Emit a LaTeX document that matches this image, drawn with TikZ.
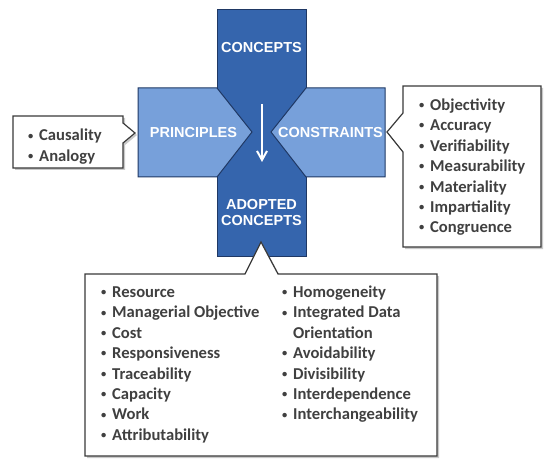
\documentclass[tikz,border=0pt]{standalone}
\usepackage{fontspec}
\setmainfont{Carlito}
\newfontfamily\labfont{Liberation Sans}
\usetikzlibrary{shadows,arrows.meta}
\definecolor{darkblue}{HTML}{3565AD}
\definecolor{lightblue}{HTML}{77A0DA}
\definecolor{navy}{HTML}{1F3864}
\definecolor{txt}{HTML}{404040}
\definecolor{boxline}{HTML}{3A3A3A}
\newcommand\bl{\makebox[12pt][l]{\hspace{1pt}\raisebox{1.9pt}{\fontsize{10.5}{10.5}\selectfont•}}}
\newcommand\nobl{\makebox[12pt][l]{}}
\begin{document}
\begin{tikzpicture}[x=1pt,y=-1pt,
 crossdark/.style={fill=darkblue,draw=navy,line width=1pt},
 crosslight/.style={fill=lightblue,draw=navy,line width=1pt},
 lab/.style={font=\labfont\bfseries\fontsize{14.5}{16}\selectfont,text=white,inner sep=0pt,align=center},
 callout/.style={fill=white,draw=boxline,line width=1.2pt,line join=miter,
   drop shadow={shadow xshift=2pt,shadow yshift=-2pt,opacity=0.35,fill=black!60}},
 list/.style={font=\bfseries\fontsize{16.6}{20.4}\selectfont,text=txt,inner sep=0pt,anchor=base west}]
\useasboundingbox (0,0) rectangle (557,468);
\fill[white] (0,0) rectangle (557,468);
% cross
\draw[crossdark] (217,10) rectangle (306,256);
\draw[crosslight] (138,88) -- (217,88) -- (252,132) -- (217,177) -- (138,177) -- cycle;
\draw[crosslight] (385,88) -- (306,88) -- (271,132) -- (306,177) -- (385,177) -- cycle;
\node[lab] (concepts) at (261.5,48) {CONCEPTS};
\node[lab] (principles) at (193.5,133) {PRINCIPLES};
\node[lab] (constraints) at (330.5,133) {CONSTRAINTS};
\node[lab] (adopted) at (261.5,213) {ADOPTED\\CONCEPTS};
\coordinate (atop) at (262,104);
\coordinate (abot) at (262,162);
\draw[white,line width=2pt,-{Straight Barb[length=9pt,width=10pt]}] (atop) -- (abot);
% callouts
\draw[callout] (13,116) -- (123,116) -- (123,123) -- (135,133) -- (123,143) -- (123,168) -- (13,168) -- cycle;
\draw[callout] (403,86) -- (541,86) -- (541,247) -- (403,247) -- (403,152) -- (387,132) -- (403,113) -- cycle;
\draw[callout] (85,274) -- (245,274) -- (261,242) -- (278,274) -- (437,274) -- (437,456) -- (85,456) -- cycle;
% lists
\node[list] (leftlist) at (27,141) {\begin{tabular}[t]{@{}l@{}}\bl Causality\\ \bl Analogy\end{tabular}};
\node[list] (rightlist) at (418,110.5) {\begin{tabular}[t]{@{}l@{}}\bl Objectivity\\ \bl Accuracy\\ \bl Verifiability\\ \bl Measurability\\ \bl Materiality\\ \bl Impartiality\\ \bl Congruence\end{tabular}};
\node[list] (botlist1) at (100,297.5) {\begin{tabular}[t]{@{}l@{}}\bl Resource\\ \bl Managerial Objective\\ \bl Cost\\ \bl Responsiveness\\ \bl Traceability\\ \bl Capacity\\ \bl Work\\ \bl Attributability\end{tabular}};
\node[list] (botlist2) at (281,297.5) {\begin{tabular}[t]{@{}l@{}}\bl Homogeneity\\ \bl Integrated Data\\ \nobl Orientation\\ \bl Avoidability\\ \bl Divisibility\\ \bl Interdependence\\ \bl Interchangeability\end{tabular}};
\end{tikzpicture}
\end{document}
